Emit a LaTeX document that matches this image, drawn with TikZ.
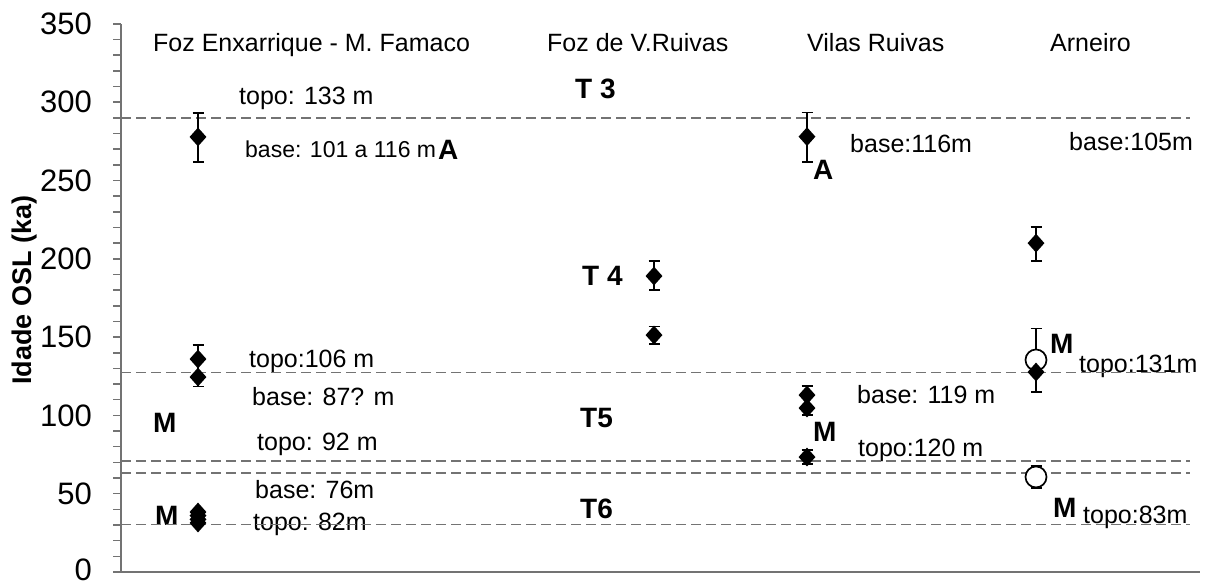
\documentclass[tikz,border=0pt]{standalone}
\usepackage{fontspec}
\setmainfont{Liberation Sans}
\usetikzlibrary{shapes.geometric,arrows.meta}
\tikzset{
  lbl/.style={anchor=base west, inner sep=0pt, font=\fontsize{25}{30}\selectfont},
  bl/.style={anchor=base west, inner sep=0pt, font=\fontsize{28}{32}\selectfont\bfseries},
  tick label/.style={anchor=east, inner sep=0pt, font=\fontsize{31}{36}\selectfont},
  ax/.style={draw=black!55, line width=1.5pt},
  dl/.style={draw=black!55, line width=1.3pt, dash pattern=on 10pt off 5pt},
  dmk/.style={diamond, fill=black, inner sep=0pt, minimum width=17pt, minimum height=19pt},
  omk/.style={circle, draw=black, line width=1.7pt, fill=white, inner sep=0pt, minimum size=21pt},
  eb/.style={line width=1.6pt, {Bar[width=11pt,line width=1.6pt]}-{Bar[width=11pt,line width=1.6pt]}}
}
\begin{document}
\begin{tikzpicture}[x=1pt,y=-1pt]
\useasboundingbox (0,0) rectangle (1208,585);
% axis title
\node[rotate=90, inner sep=0pt, font=\fontsize{27}{32}\selectfont\bfseries] (ytitle) at (25,290) {Idade OSL  (ka)};
% headers
\node[lbl] (h1) at (153,52) {Foz Enxarrique - M. Famaco};
\node[lbl] (h2) at (547,52) {Foz de V.Ruivas};
\node[lbl] (h3) at (807,52) {Vilas Ruivas};
\node[lbl] (h4) at (1050,52) {Arneiro};
% labels column 1
\node[lbl] (l1) at (239,105) {topo: 133 m};
\node[lbl, font=\fontsize{23}{28}\selectfont] (l2) at (245,158) {base: 101 a 116 m};
\node[bl] (l2a) at (438,160) {A};
\node[lbl] (l3) at (249,367) {topo:106 m};
\node[lbl] (l4) at (252,405) {base: 87? m};
\node[bl] (m1) at (153,432) {M};
\node[lbl] (l5) at (257,450) {topo: 92 m};
\node[lbl] (l6) at (255,498) {base: 76m};
\node[bl] (m2) at (155,525) {M};
\node[lbl] (l7) at (253,530) {topo: 82m};
% T labels
\node[bl] (t3) at (575,99) {T 3};
\node[bl] (t4) at (582,286) {T 4};
\node[bl] (t5) at (580,428) {T5};
\node[bl] (t6) at (580,518) {T6};
% column 3 labels
\node[lbl] (l8) at (850,153) {base:116m};
\node[bl] (a2) at (813,180) {A};
\node[lbl] (l9) at (857,403) {base: 119 m};
\node[bl] (m3) at (813,441) {M};
\node[lbl] (l10) at (858,456) {topo:120 m};
% column 4 labels
\node[lbl] (l11) at (1069,151) {base:105m};
\node[bl] (m4) at (1050,354) {M};
\node[lbl] (l12) at (1079,373) {topo:131m};
\node[bl] (m5) at (1053,517) {M};
\node[lbl] (l13) at (1083,523) {topo:83m};

\begin{scope}[yshift=-572pt, y=1.566pt]
  % reference lines
  \foreach \v in {290,127.3,70.9,63.2,30.2}
    \draw[dl] (121,\v) -- (1190,\v);
  % axes
  \draw[ax] (121,0) -- (121,350);
  \draw[ax] (121,0) -- (1200,0);
  \foreach \v in {0,10,...,350}
    \draw[ax] (113,\v) -- (121,\v);
  \foreach \v in {50,100,...,350}
    \node[tick label] (tl\v) at (92,\v) {\v};
  \node[tick label, anchor=base east] (tl0) at (92,-5.6) {0};
  % error bars
  \draw[eb] (198,261.2) -- (198,293.7);
  \draw[eb] (198,118) -- (198,145.6);
  \draw[eb] (654,179.4) -- (654,199.2);
  \draw[eb] (654,145) -- (654,157.3);
  \draw[eb] (807,261.2) -- (807,294);
  \draw[eb] (807,99.6) -- (807,119.4);
  \draw[eb] (807,68.3) -- (807,78.5);
  \draw[eb] (1036,198) -- (1036,221);
  \draw[eb] (1036,114.3) -- (1036,156);
  \draw[eb] (1036,53.3) -- (1036,68.1);
  % open circles
  \node[omk] (o1) at (1036,135.4) {};
  \node[omk] (o2) at (1036,60.7) {};
  % diamonds
  \node[dmk] (d1) at (198,277.8) {};
  \node[dmk] (d2) at (198,136) {};
  \node[dmk] (d3) at (198,124.5) {};
  \node[dmk] (d4) at (198,38.3) {};
  \node[dmk] (d5) at (198,36) {};
  \node[dmk] (d6) at (198,33.6) {};
  \node[dmk] (d7) at (198,31.3) {};
  \node[dmk] (d8) at (654,189) {};
  \node[dmk] (d9) at (654,151.3) {};
  \node[dmk] (d10) at (807,278) {};
  \node[dmk] (d11) at (807,113) {};
  \node[dmk] (d12) at (807,104.7) {};
  \node[dmk] (d13) at (807,73.4) {};
  \node[dmk] (d14) at (1036,210) {};
  \node[dmk] (d15) at (1036,127.7) {};
\end{scope}
\end{tikzpicture}
\end{document}
